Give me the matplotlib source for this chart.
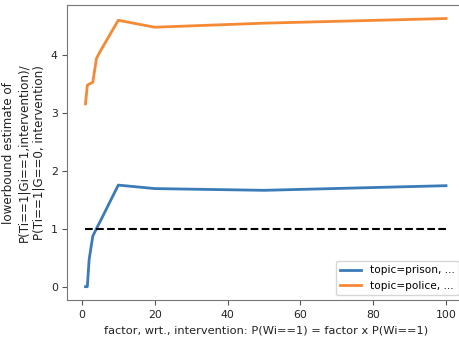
import numpy as np
import matplotlib
matplotlib.use("Agg")
import matplotlib.pyplot as plt

factors = [1, 1.5, 2, 3, 4, 5, 10, 20, 50, 100]
prison = [0.0, 0.0, 0.47, 0.87, 1.0, 1.12, 1.75, 1.69, 1.66, 1.74]
police = [3.15, 3.47, 3.49, 3.52, 3.93, 4.05, 4.59, 4.47, 4.54, 4.62]

fig = plt.figure(figsize=(4.59, 3.41), dpi=100)
# axes runs a bit past the right edge (reference image is cropped there)
ax = fig.add_axes([0.147, 0.12, 0.864, 0.865])

ax.plot(factors, prison, c='#3a7bb8', lw=2.0, label="topic=prison, ...")
ax.plot(factors, police, c='#f58a35', lw=2.0, label="topic=police, ...")
ax.plot([factors[0], factors[-1]], [1, 1], 'k--', lw=1.5)

for s in ax.spines.values():
    s.set_color('#777777')

ax.set_xlabel("factor, wrt., intervention: P(Wi==1) = factor x P(Wi==1)", fontsize=8.2, color='#222222')
ax.set_ylabel("lowerbound estimate of\nP(Ti==1|Gi==1,intervention)/\nP(Ti==1|G==0, intervention)", fontsize=8.6, color='#222222')
ax.tick_params(labelsize=7.8, labelcolor='#222222', color='#555555')
ax.legend(loc="lower right", fontsize=7.6)

fig.savefig("out.png")
